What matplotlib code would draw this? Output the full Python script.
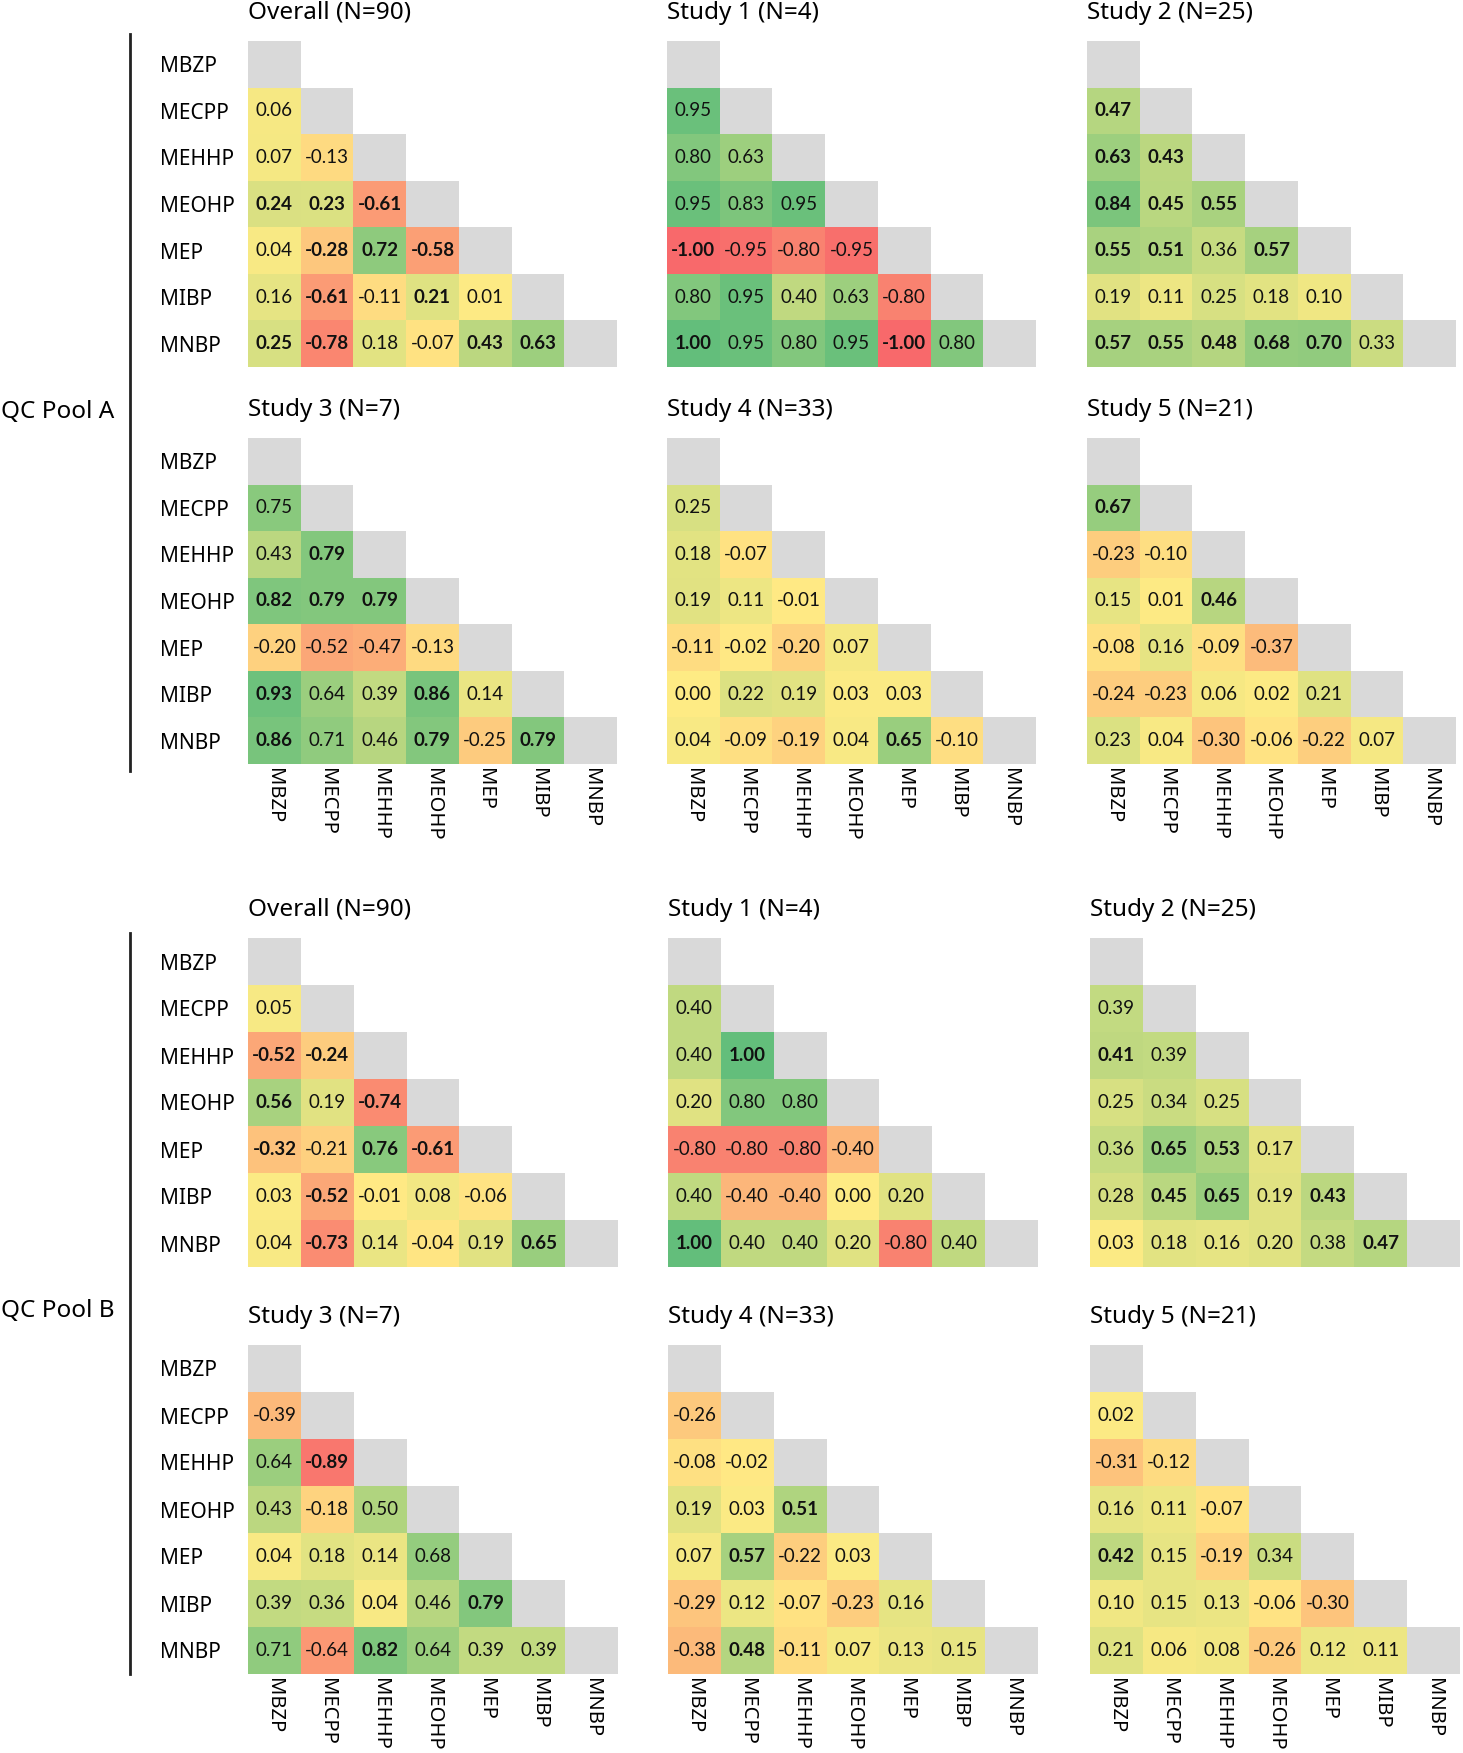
import numpy as np
import matplotlib
matplotlib.use("Agg")
import matplotlib.pyplot as plt
from matplotlib.colors import LinearSegmentedColormap, ListedColormap, Normalize
from matplotlib.lines import Line2D

plt.rcParams['font.family'] = ['Noto Sans', 'DejaVu Sans']

analytes = ["MBZP", "MECPP", "MEHHP", "MEOHP", "MEP", "MIBP", "MNBP"]

# lower triangle, row by row (MECPP, MEHHP, ... MNBP); *_sig = bold (significant)
a_overall = [0.06, 0.07, -0.13, 0.24, 0.23, -0.61, 0.04, -0.28, 0.72, -0.58,
             0.16, -0.61, -0.11, 0.21, 0.01, 0.25, -0.78, 0.18, -0.07, 0.43, 0.63]
a_overall_sig = [0, 0, 0, 1, 1, 1, 0, 1, 1, 1, 0, 1, 0, 1, 0, 1, 1, 0, 0, 1, 1]

a_study1 = [0.95, 0.80, 0.63, 0.95, 0.83, 0.95, -1.00, -0.95, -0.80, -0.95,
            0.80, 0.95, 0.40, 0.63, -0.80, 1.00, 0.95, 0.80, 0.95, -1.00, 0.80]
a_study1_sig = [0, 0, 0, 0, 0, 0, 1, 0, 0, 0, 0, 0, 0, 0, 0, 1, 0, 0, 0, 1, 0]

a_study2 = [0.47, 0.63, 0.43, 0.84, 0.45, 0.55, 0.55, 0.51, 0.36, 0.57,
            0.19, 0.11, 0.25, 0.18, 0.10, 0.57, 0.55, 0.48, 0.68, 0.70, 0.33]
a_study2_sig = [1, 1, 1, 1, 1, 1, 1, 1, 0, 1, 0, 0, 0, 0, 0, 1, 1, 1, 1, 1, 0]

a_study3 = [0.75, 0.43, 0.79, 0.82, 0.79, 0.79, -0.20, -0.52, -0.47, -0.13,
            0.93, 0.64, 0.39, 0.86, 0.14, 0.86, 0.71, 0.46, 0.79, -0.25, 0.79]
a_study3_sig = [0, 0, 1, 1, 1, 1, 0, 0, 0, 0, 1, 0, 0, 1, 0, 1, 0, 0, 1, 0, 1]

a_study4 = [0.25, 0.18, -0.07, 0.19, 0.11, -0.01, -0.11, -0.02, -0.20, 0.07,
            0.00, 0.22, 0.19, 0.03, 0.03, 0.04, -0.09, -0.19, 0.04, 0.65, -0.10]
a_study4_sig = [0, 0, 0, 0, 0, 0, 0, 0, 0, 0, 0, 0, 0, 0, 0, 0, 0, 0, 0, 1, 0]

a_study5 = [0.67, -0.23, -0.10, 0.15, 0.01, 0.46, -0.08, 0.16, -0.09, -0.37,
            -0.24, -0.23, 0.06, 0.02, 0.21, 0.23, 0.04, -0.30, -0.06, -0.22, 0.07]
a_study5_sig = [1, 0, 0, 0, 0, 1, 0, 0, 0, 0, 0, 0, 0, 0, 0, 0, 0, 0, 0, 0, 0]

b_overall = [0.05, -0.52, -0.24, 0.56, 0.19, -0.74, -0.32, -0.21, 0.76, -0.61,
             0.03, -0.52, -0.01, 0.08, -0.06, 0.04, -0.73, 0.14, -0.04, 0.19, 0.65]
b_overall_sig = [0, 1, 1, 1, 0, 1, 1, 0, 1, 1, 0, 1, 0, 0, 0, 0, 1, 0, 0, 0, 1]

b_study1 = [0.40, 0.40, 1.00, 0.20, 0.80, 0.80, -0.80, -0.80, -0.80, -0.40,
            0.40, -0.40, -0.40, 0.00, 0.20, 1.00, 0.40, 0.40, 0.20, -0.80, 0.40]
b_study1_sig = [0, 0, 1, 0, 0, 0, 0, 0, 0, 0, 0, 0, 0, 0, 0, 1, 0, 0, 0, 0, 0]

b_study2 = [0.39, 0.41, 0.39, 0.25, 0.34, 0.25, 0.36, 0.65, 0.53, 0.17,
            0.28, 0.45, 0.65, 0.19, 0.43, 0.03, 0.18, 0.16, 0.20, 0.38, 0.47]
b_study2_sig = [0, 1, 0, 0, 0, 0, 0, 1, 1, 0, 0, 1, 1, 0, 1, 0, 0, 0, 0, 0, 1]

b_study3 = [-0.39, 0.64, -0.89, 0.43, -0.18, 0.50, 0.04, 0.18, 0.14, 0.68,
            0.39, 0.36, 0.04, 0.46, 0.79, 0.71, -0.64, 0.82, 0.64, 0.39, 0.39]
b_study3_sig = [0, 0, 1, 0, 0, 0, 0, 0, 0, 0, 0, 0, 0, 0, 1, 0, 0, 1, 0, 0, 0]

b_study4 = [-0.26, -0.08, -0.02, 0.19, 0.03, 0.51, 0.07, 0.57, -0.22, 0.03,
            -0.29, 0.12, -0.07, -0.23, 0.16, -0.38, 0.48, -0.11, 0.07, 0.13, 0.15]
b_study4_sig = [0, 0, 0, 0, 0, 1, 0, 1, 0, 0, 0, 0, 0, 0, 0, 0, 1, 0, 0, 0, 0]

b_study5 = [0.02, -0.31, -0.12, 0.16, 0.11, -0.07, 0.42, 0.15, -0.19, 0.34,
            0.10, 0.15, 0.13, -0.06, -0.30, 0.21, 0.06, 0.08, -0.26, 0.12, 0.11]
b_study5_sig = [0, 0, 0, 0, 0, 0, 1, 0, 0, 0, 0, 0, 0, 0, 0, 0, 0, 0, 0, 0, 0]

titles = ["Overall (N=90)", "Study 1 (N=4)", "Study 2 (N=25)",
          "Study 3 (N=7)", "Study 4 (N=33)", "Study 5 (N=21)"]

W, H = 1463, 1753
fig = plt.figure(figsize=(W / 100, H / 100), dpi=100)

# excel style red - yellow - green scale
cmap = LinearSegmentedColormap.from_list("rdylgn_xl", ["#F8696B", "#FFEB84", "#63BE7B"])
norm = Normalize(-1, 1)
grey = ListedColormap(["#D9D9D9"])
cell_font = ['Lato', 'DejaVu Sans']


def lower_matrix(vals):
    m = np.full((7, 7), np.nan)
    k = 0
    for i in range(1, 7):
        for j in range(i):
            m[i, j] = vals[k]
            k += 1
    return m


def draw_panel(left, top, w, h, title, vals, sig, show_y, show_x):
    ax = fig.add_axes([left / W, 1 - (top + h) / H, w / W, h / H])
    m = lower_matrix(vals)
    s = lower_matrix(sig)
    ax.pcolormesh(np.ma.masked_invalid(m), cmap=cmap, norm=norm, snap=True)
    diag = np.where(np.eye(7) == 1, 1.0, np.nan)
    ax.pcolormesh(np.ma.masked_invalid(diag), cmap=grey, snap=True)
    for i in range(7):
        for j in range(i):
            ax.text(j + 0.5, i + 0.5, f"{m[i, j]:.2f}", ha="center", va="center",
                    fontsize=13.5, color="#111111", family=cell_font,
                    fontweight="bold" if s[i, j] else "normal")
    ax.set_xlim(0, 7)
    ax.set_ylim(7, 0)
    for sp in ax.spines.values():
        sp.set_visible(False)
    ax.tick_params(length=0)
    if show_y:
        ax.set_yticks(np.arange(7) + 0.5, analytes)
        ax.tick_params(axis="y", pad=(left - 160) * 0.72)
        for lab in ax.get_yticklabels():
            lab.set_ha("left")
            lab.set_fontsize(15)
    else:
        ax.set_yticks([])
    if show_x:
        ax.set_xticks(np.arange(7) + 0.5, analytes, rotation=-90, va="top", ha="center",
                      fontsize=14.5)
        ax.tick_params(axis="x", pad=3)
    else:
        ax.set_xticks([])
    fig.text(left / W, 1 - (top - 28) / H, title, ha="left", va="center", fontsize=17.5)


pool_a = [(a_overall, a_overall_sig), (a_study1, a_study1_sig), (a_study2, a_study2_sig),
          (a_study3, a_study3_sig), (a_study4, a_study4_sig), (a_study5, a_study5_sig)]
pool_b = [(b_overall, b_overall_sig), (b_study1, b_study1_sig), (b_study2, b_study2_sig),
          (b_study3, b_study3_sig), (b_study4, b_study4_sig), (b_study5, b_study5_sig)]

lefts_a = [248, 667, 1087]
lefts_b = [248, 668, 1090]
tops_a = [41, 438]
tops_b = [938, 1345]

for k, (vals, sig) in enumerate(pool_a):
    r, c = divmod(k, 3)
    draw_panel(lefts_a[c], tops_a[r], 369, 326, titles[k], vals, sig, c == 0, r == 1)

for k, (vals, sig) in enumerate(pool_b):
    r, c = divmod(k, 3)
    draw_panel(lefts_b[c], tops_b[r], 370, 329, titles[k], vals, sig, c == 0, r == 1)

# pool labels with brackets
fig.text(1 / W, 1 - 412 / H, "QC Pool A", ha="left", va="center", fontsize=17.5)
fig.add_artist(Line2D([130 / W, 130 / W], [1 - 34 / H, 1 - 771 / H], color="#222222", lw=2))
fig.text(1 / W, 1 - 1311 / H, "QC Pool B", ha="left", va="center", fontsize=17.5)
fig.add_artist(Line2D([130 / W, 130 / W], [1 - 933 / H, 1 - 1674 / H], color="#222222", lw=2))

fig.savefig("out.png", dpi=100)
